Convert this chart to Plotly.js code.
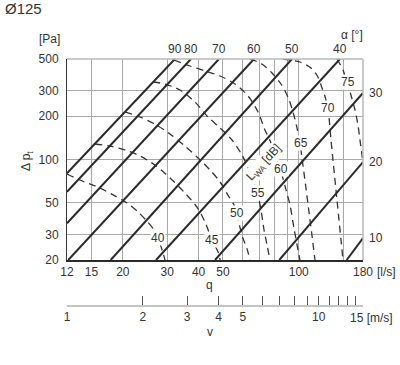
<!DOCTYPE html>
<html>
<head>
<meta charset="utf-8">
<script src="https://cdn.plot.ly/plotly-3.0.1.min.js"></script>
<style>html,body{margin:0;padding:0;background:#fff;}#chart{width:400px;height:365px;}</style>
</head>
<body>
<div id="chart"></div>
<script>
// ---- axis ticks ----
const qTicks = [12, 15, 20, 30, 40, 50, 60, 70, 80, 90, 100, 150, 180];
const qTickText = ['12', '15', '20', '30', '40', '50', '', '', '', '', '100', '', '180'];
const pTicks = [20, 30, 50, 100, 200, 300, 500];
const pTickText = ['20', '30', '50', '100', '200', '300', '500'];
const vTicks = [1, 2, 3, 4, 5, 6, 7, 8, 9, 10, 11, 12, 13, 14, 15];
const vTickText = ['1', '2', '3', '4', '5', '', '', '', '', '10', '', '', '', '', ''];

// ---- damper angle lines (alpha, degrees): start point and end point ----
const alphaLabels = [90, 80, 70, 60, 50, 40, 30, 20, 10];
const alphaQ1 = [12, 12, 12, 12.14, 17.9, 27.1, 46.5, 83.7, 155.0];
const alphaP1 = [80.2, 59.7, 36.0, 20, 20, 20, 20, 20, 20];
const alphaQ2 = [32.2, 37.3, 48.2, 66.4, 94.0, 145.8, 180, 180, 180];
const alphaP2 = [500, 500, 500, 500, 500, 500, 290, 96, 28.4];

// ---- sound power level curves L_WA [dB] ----
const lwaLevels = [40, 45, 50, 55, 60, 65, 70, 75];
const lwa40Q = [12, 13.5, 16.2, 18.6, 20.8, 23.0, 24.9, 26.8, 28.9, 29.4];
const lwa40P = [79.3, 72.0, 63.4, 55.8, 49.8, 43.2, 37.3, 31.8, 22.4, 20];
const lwa45Q = [15.5, 17.8, 20.4, 23.4, 26.8, 30.8, 35.3, 39.4, 42.4, 45.2, 47.8, 48.7];
const lwa45P = [128.2, 124.1, 116.5, 105.8, 91.6, 74.4, 58.5, 46.7, 36.8, 27.6, 22.7, 20];
const lwa50Q = [20.4, 23.4, 26.8, 30.8, 35.3, 39.8, 44.4, 48.7, 52.3, 55.3, 57.4, 60.0, 62.3, 64.0];
const lwa50P = [214.0, 197.5, 176.6, 150.5, 124.1, 102.4, 84.5, 69.8, 56.6, 48.3, 38.0, 28.4, 23.9, 20];
const lwa55Q = [26.4, 29.4, 33.7, 38.7, 43.6, 48.7, 54.3, 59.5, 64.0, 67.0, 68.9, 70.8, 72.8, 74.8, 76.9];
const lwa55P = [346.0, 335.1, 304.4, 251.2, 197.5, 165.7, 136.7, 107.5, 81.9, 66.5, 56.6, 44.6, 32.3, 25.4, 20];
const lwa60Q = [31.9, 37.0, 42.4, 48.7, 55.8, 62.9, 68.9, 73.4, 78.3, 81.9, 85.8, 89.0, 92.3, 95.7, 99.3, 101.1];
const lwa60P = [492.1, 447.0, 412.7, 380.7, 335.1, 276.5, 214.0, 160.4, 126.1, 99.2, 78.0, 61.4, 48.3, 33.4, 23.5, 20];
const lwa65Q = [64.0, 71.4, 78.3, 85.0, 90.6, 94.9, 98.4, 101.1, 103.9, 106.8, 109.8, 112.8, 116.0];
const lwa65P = [500, 461.6, 399.6, 335.1, 272.1, 214.0, 165.7, 130.3, 91.6, 63.4, 43.2, 29.9, 20];
const lwa70Q = [86.6, 101.1, 111.8, 119.2, 123.7, 128.3, 131.9, 134.3, 136.8, 139.3, 141.9, 144.5, 147.2, 149.9];
const lwa70P = [500, 476.6, 433.0, 374.9, 314.3, 259.4, 194.4, 136.7, 99.2, 72.0, 52.3, 38.0, 27.6, 20];
const lwa75Q = [141.9, 149.9, 155.5, 161.2, 167.3, 171.9, 175.1, 178.3, 180];
const lwa75P = [500, 419.2, 346.0, 281.0, 220.9, 173.8, 136.7, 107.5, 94.6];
const lwaLabelQ = [27.6, 45.2, 56.8, 68.9, 85.0, 102.1, 130.7, 157.0];
const lwaLabelP = [28.4, 27.6, 42.5, 58.5, 85.9, 130.3, 228.2, 346.0];

const lwaQ = [lwa40Q, lwa45Q, lwa50Q, lwa55Q, lwa60Q, lwa65Q, lwa70Q, lwa75Q];
const lwaP = [lwa40P, lwa45P, lwa50P, lwa55P, lwa60P, lwa65P, lwa70P, lwa75P];

const FONT = 'Liberation Sans, Arial, Helvetica, sans-serif';
const TXT = '#333333';
const L = Math.log10;

const traces = [];
// dashed L_WA curves
for (let i = 0; i < lwaLevels.length; i++) {
  traces.push({
    x: lwaQ[i], y: lwaP[i], xaxis: 'x', yaxis: 'y', mode: 'lines',
    line: {color: '#333333', width: 1.3, dash: '7px,5px', shape: 'spline', smoothing: 0.8},
    hoverinfo: 'skip', showlegend: false
  });
}
// solid alpha lines
for (let i = 0; i < alphaLabels.length; i++) {
  traces.push({
    x: [alphaQ1[i], alphaQ2[i]], y: [alphaP1[i], alphaP2[i]], xaxis: 'x', yaxis: 'y', mode: 'lines',
    line: {color: '#2a2a2a', width: 2},
    hoverinfo: 'skip', showlegend: false
  });
}
// carrier trace for velocity axis
traces.push({x: [1, 15], y: [30, 30], xaxis: 'x2', yaxis: 'y', mode: 'lines',
  line: {color: 'rgba(0,0,0,0)', width: 0}, hoverinfo: 'skip', showlegend: false});

const annotations = [];
function pap(text, x, y, xa, ya, extra) {
  return Object.assign({text: text, xref: 'paper', yref: 'paper', x: x, y: y,
    xanchor: xa, yanchor: ya, showarrow: false, font: {family: FONT, size: 12, color: TXT}}, extra || {});
}
annotations.push(pap('Ø125', -0.2162, 1.2045, 'left', 'middle', {font: {family: FONT, size: 15, color: TXT}}));
annotations.push(pap('[Pa]', -0.0608, 1.081, 'center', 'middle'));
annotations.push(pap('α [°]', 0.9645, 1.097, 'center', 'middle'));
annotations.push(pap('Δ p<sub>t</sub>', -0.135, 0.587, 'center', 'middle', {textangle: -90}));
annotations.push(pap('q', 0.483, 0.085, 'center', 'middle'));
annotations.push(pap('v', 0.483, -0.105, 'center', 'middle'));
annotations.push(pap('[l/s]', 1.0405, 0.1377, 'left', 'middle'));
annotations.push(pap('15 [m/s]', 0.9493, -0.0474, 'left', 'middle'));

// alpha labels
for (let i = 0; i < alphaLabels.length; i++) {
  if (alphaP2[i] >= 500) {
    annotations.push({text: String(alphaLabels[i]), xref: 'x', yref: 'paper',
      x: L(alphaQ2[i]), y: 1.0, yshift: 1, xanchor: 'center', yanchor: 'bottom',
      showarrow: false, font: {family: FONT, size: 12, color: TXT}});
  } else {
    annotations.push({text: String(alphaLabels[i]), xref: 'paper', yref: 'y',
      x: 1.0, y: L(alphaP2[i]), xshift: 4, xanchor: 'left', yanchor: 'middle',
      showarrow: false, font: {family: FONT, size: 12, color: TXT}});
  }
}
// L_WA labels
for (let i = 0; i < lwaLevels.length; i++) {
  annotations.push({text: String(lwaLevels[i]), xref: 'x', yref: 'y',
    x: L(lwaLabelQ[i]), y: L(lwaLabelP[i]), xanchor: 'center', yanchor: 'middle',
    showarrow: false, bgcolor: '#ffffff', borderpad: 0,
    font: {family: FONT, size: 12, color: TXT}});
}
annotations.push({text: 'L<sub>WA</sub> [dB]', xref: 'x', yref: 'y', x: L(72.8), y: L(94.6),
  xanchor: 'center', yanchor: 'middle', textangle: -47, showarrow: false, bgcolor: '#ffffff', borderpad: 0,
  font: {family: FONT, size: 12, color: TXT}});

const GRID = '#a8a8a8';
const layout = {
  width: 400, height: 365,
  margin: {l: 67, r: 37, t: 59, b: 59, pad: 0},
  paper_bgcolor: '#ffffff', plot_bgcolor: '#ffffff',
  showlegend: false,
  font: {family: FONT, size: 12, color: TXT},
  xaxis: {type: 'log', range: [L(12), L(180)], tickmode: 'array', tickvals: qTicks, ticktext: qTickText,
    showgrid: true, gridcolor: GRID, gridwidth: 1, showline: true, linecolor: '#2a2a2a', linewidth: 2,
    ticks: '', zeroline: false, anchor: 'y', tickfont: {family: FONT, size: 12, color: TXT}, fixedrange: true},
  yaxis: {type: 'log', domain: [0.1862, 1], range: [L(20), L(500)], tickmode: 'array', tickvals: pTicks, ticktext: pTickText,
    showgrid: true, gridcolor: GRID, gridwidth: 1, showline: true, linecolor: '#3a3a3a', linewidth: 1,
    ticks: '', ticklabelstandoff: 5, zeroline: false, tickfont: {family: FONT, size: 12, color: TXT}, fixedrange: true},
  xaxis2: {type: 'log', overlaying: 'x', anchor: 'free', position: 0, side: 'bottom', range: [0, L(15)],
    tickmode: 'array', tickvals: vTicks, ticktext: vTickText, ticks: 'inside', ticklen: 9, tickwidth: 1, tickcolor: '#555555',
    showline: true, linecolor: '#c4c4c4', linewidth: 2, showgrid: false, zeroline: false,
    tickfont: {family: FONT, size: 12, color: TXT}, fixedrange: true},
  shapes: [
    {type: 'line', xref: 'paper', yref: 'y domain', x0: 0, x1: 1, y0: 1, y1: 1, line: {color: '#b8b8b8', width: 1.5}},
    {type: 'line', xref: 'paper', yref: 'y domain', x0: 1, x1: 1, y0: 0, y1: 1, line: {color: '#b8b8b8', width: 1.5}}
  ],
  annotations: annotations
};

Plotly.newPlot('chart', traces, layout, {displayModeBar: false, staticPlot: true});
</script>
</body>
</html>
